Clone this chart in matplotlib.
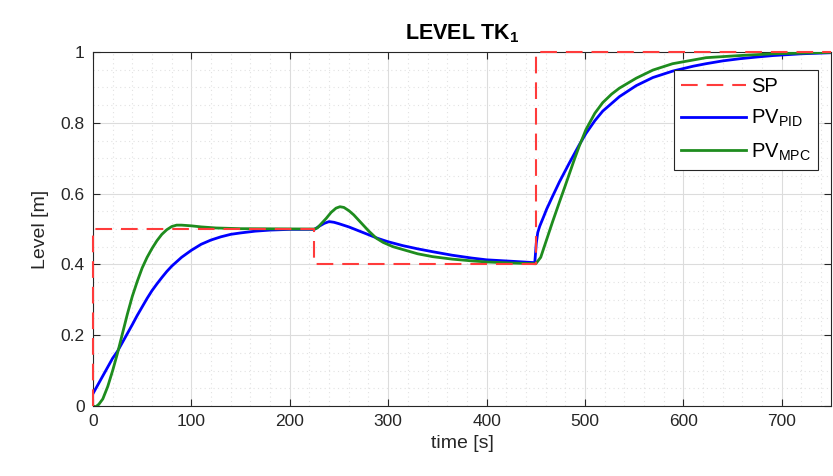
import matplotlib
matplotlib.use("Agg")
import matplotlib.pyplot as plt
from matplotlib.ticker import MultipleLocator

plt.rcParams['font.family'] = ['Liberation Sans', 'DejaVu Sans']
plt.rcParams['mathtext.fontset'] = 'custom'
plt.rcParams['mathtext.rm'] = 'Liberation Sans'
plt.rcParams['mathtext.bf'] = 'Liberation Sans:bold'

# Setpoint (step changes)
sp_t = [0, 0, 225, 225, 450, 450, 750]
sp_level = [0.0, 0.5, 0.5, 0.4, 0.4, 1.0, 1.0]

# Tank level under PID control
pid_t = [0, 5, 10, 15, 20, 25, 30, 35, 40, 45, 50, 55, 60, 65, 70, 75, 80, 90,
         100, 110, 120, 130, 140, 150, 165, 180, 200, 225, 230, 235, 240, 245,
         250, 260, 270, 280, 290, 300, 315, 330, 345, 365, 385, 400, 425, 449,
         450.5, 452, 454, 458, 461, 467, 474, 484, 494, 501, 510, 518, 535, 552,
         569, 589, 610, 623, 640, 657, 675, 691, 720, 750]
pid_level = [0.035, 0.06, 0.085, 0.11, 0.135, 0.155, 0.18, 0.205, 0.23, 0.256,
             0.28, 0.304, 0.326, 0.345, 0.363, 0.38, 0.395, 0.42, 0.44, 0.457,
             0.469, 0.478, 0.485, 0.489, 0.494, 0.497, 0.499, 0.499, 0.508,
             0.516, 0.521, 0.519, 0.515, 0.506, 0.495, 0.484, 0.473, 0.464,
             0.453, 0.444, 0.436, 0.426, 0.418, 0.413, 0.409, 0.405, 0.46, 0.49,
             0.508, 0.535, 0.556, 0.592, 0.633, 0.686, 0.737, 0.77, 0.806,
             0.833, 0.874, 0.905, 0.928, 0.946, 0.96, 0.967, 0.975, 0.981,
             0.986, 0.99, 0.995, 0.998]

# Tank level under MPC control
mpc_t = [0, 3, 6, 10, 15, 20, 25, 30, 35, 40, 45, 50, 55, 60, 65, 70, 75, 80,
         85, 90, 100, 110, 125, 150, 225, 228, 232, 237, 242, 247, 251, 255,
         260, 265, 270, 275, 280, 288, 295, 305, 315, 330, 345, 365, 385, 400,
         425, 450, 455, 461, 467, 474, 479, 484, 489, 494, 501, 510, 518, 527,
         535, 552, 569, 589, 623, 657, 691, 750]
mpc_level = [0.0, -0.002, 0.005, 0.02, 0.055, 0.1, 0.15, 0.205, 0.26, 0.31,
             0.352, 0.39, 0.42, 0.445, 0.467, 0.485, 0.498, 0.507, 0.511,
             0.511, 0.509, 0.506, 0.503, 0.501, 0.5, 0.503, 0.515, 0.53, 0.547,
             0.559, 0.563, 0.561, 0.552, 0.54, 0.525, 0.51, 0.495, 0.474, 0.462,
             0.45, 0.442, 0.43, 0.422, 0.415, 0.41, 0.407, 0.404, 0.402, 0.42,
             0.47, 0.52, 0.576, 0.615, 0.655, 0.695, 0.733, 0.781, 0.827,
             0.857, 0.881, 0.898, 0.926, 0.949, 0.967, 0.984, 0.99, 0.995,
             0.999]

fig = plt.figure(figsize=(8.33, 4.76), dpi=100)
ax = fig.add_axes([0.1116, 0.147, 0.886, 0.7437])

ax.plot(sp_t, sp_level, color='#ff3b3b', lw=1.5, linestyle=(0, (8, 4.3)),
        label='SP', clip_on=False, zorder=5)
ax.plot(pid_t, pid_level, color='#0000ff', lw=2.0, label=r'PV$_\mathregular{PID}$',
        zorder=3)
ax.plot(mpc_t, mpc_level, color='#1e8c1e', lw=2.0, label=r'PV$_\mathregular{MPC}$',
        zorder=4)

ax.set_xlim(0, 750)
ax.set_ylim(0, 1)
ax.xaxis.set_major_locator(MultipleLocator(100))
ax.xaxis.set_minor_locator(MultipleLocator(20))
ax.yaxis.set_minor_locator(MultipleLocator(0.05))
ax.set_yticks([0, 0.2, 0.4, 0.6, 0.8, 1.0])
ax.set_yticklabels(['0', '0.2', '0.4', '0.6', '0.8', '1'])

ax.grid(which='major', color='#dcdcdc', lw=0.8)
ax.grid(which='minor', color='#e2e2e2', lw=0.8, linestyle=(0, (1, 3)))
ax.set_axisbelow(True)

ax.tick_params(which='major', direction='in', length=5, width=0.8,
               top=True, right=True, labelsize=12.5, colors='#262626', pad=6)
ax.tick_params(which='minor', length=0, top=True, right=True)
for s in ax.spines.values():
    s.set_color('#262626')
    s.set_linewidth(0.8)

ax.set_xlabel('time [s]', fontsize=14, color='#262626', labelpad=4)
ax.set_ylabel('Level [m]', fontsize=14, color='#262626', labelpad=8)
ax.set_title(r'LEVEL TK$_\mathbf{1}$', fontsize=15.5, fontweight='bold', pad=9)

leg = ax.legend(loc='upper right', bbox_to_anchor=(0.982, 0.95), fontsize=14.5,
                handlelength=3.2, frameon=True, fancybox=False, framealpha=1,
                borderpad=0.35, labelspacing=0.6, handletextpad=0.25,
                borderaxespad=0)
leg.get_frame().set_edgecolor('#262626')
leg.get_frame().set_linewidth(0.8)

fig.savefig('out.png', dpi=100)
